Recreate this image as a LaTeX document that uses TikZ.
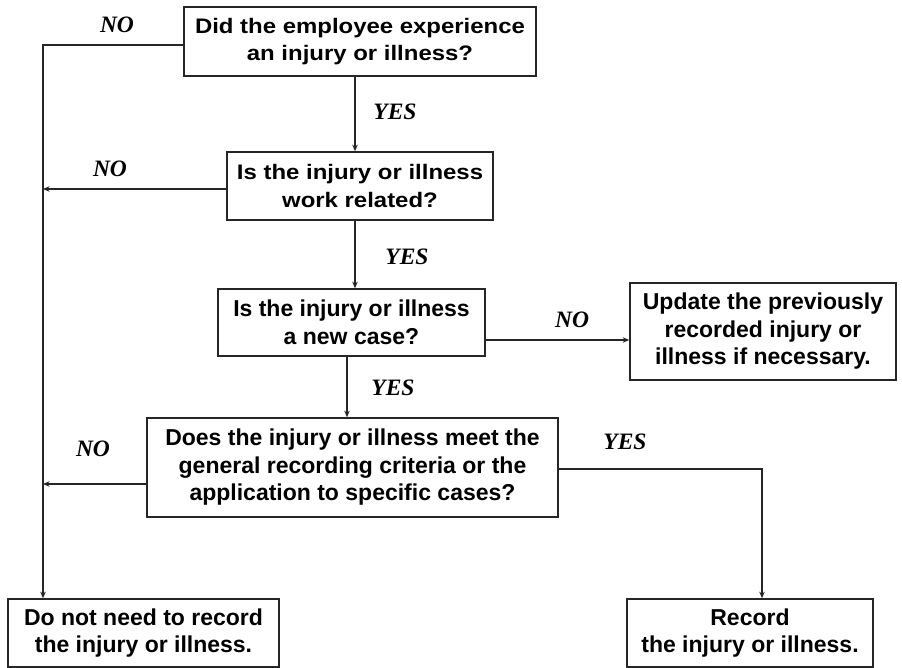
\documentclass[tikz,border=0pt]{standalone}
\usepackage{fontspec}
\setmainfont{Liberation Sans}
\newfontfamily\boxfont{Liberation Sans}[FakeStretch=1.14]
\newfontfamily\boxfontn{Liberation Sans}
\newfontfamily\lblfont{Liberation Serif}
\usetikzlibrary{arrows.meta}
\begin{document}
\begin{tikzpicture}[x=1pt,y=-1pt,
  box/.style={draw=black!85, line width=1.6pt, inner sep=0pt, align=center,
    font=\boxfont\bfseries\fontsize{21}{27.5}\selectfont},
  boxn/.style={box, font=\boxfontn\bfseries\fontsize{23}{27.5}\selectfont},
  lbl/.style={font=\lblfont\bfseries\itshape\fontsize{23.5}{26}\selectfont, inner sep=0pt},
  conn/.style={draw=black!85, line width=1.4pt},
  arr/.style={conn, -{Stealth[length=6.5pt,width=5.5pt]}}]
\useasboundingbox (0,0) rectangle (902,668);
% boxes
\node[box, minimum width=352pt, minimum height=69pt] (q1) at (360,41.5)
  {Did the employee experience\\an injury or illness?};
\node[box, minimum width=266pt, minimum height=68pt] (q2) at (360,186)
  {Is the injury or illness\\work related?};
\node[boxn, minimum width=267pt, minimum height=67pt] (q3) at (351.5,322.5)
  {Is the injury or illness\\a new case?};
\node[boxn, minimum width=266pt, minimum height=97pt] (upd) at (763,331.5)
  {Update the previously\\recorded injury or\\illness if necessary.};
\node[boxn, minimum width=411pt, minimum height=99pt] (q4) at (352.5,467.5)
  {Does the injury or illness meet the\\general recording criteria or the\\application to specific cases?};
\node[boxn, minimum width=271pt, minimum height=68pt] (nr) at (143.5,633)
  {Do not need to record\\the injury or illness.};
\node[boxn, minimum width=246pt, minimum height=68pt] (rec) at (750,633)
  {Record\\the injury or illness.};
% coordinates
\coordinate (c1) at (43,45);
\coordinate (c2) at (43,189);
\coordinate (c4) at (43,484);
\coordinate (c5) at (762,469);
% connectors
\draw[arr] (q1.west |- c1) -- (c1) -- (c1 |- nr.north);
\draw[arr] (q1.south -| 355,0) -- (q2.north -| 355,0);
\draw[arr] (q2.west |- c2) -- (c2);
\draw[arr] (q2.south -| 355,0) -- (q3.north -| 355,0);
\draw[arr] (q3.east |- 0,340) -- (upd.west |- 0,340);
\draw[arr] (q3.south -| 347,0) -- (q4.north -| 347,0);
\draw[arr] (q4.west |- c4) -- (c4);
\draw[arr] (q4.east |- c5) -- (c5) -- (c5 |- rec.north);
% labels
\node[lbl] (n1) at (117,25) {NO};
\node[lbl] (y1) at (395,112) {YES};
\node[lbl] (n2) at (110,169) {NO};
\node[lbl] (y2) at (407,257) {YES};
\node[lbl] (n3) at (572,320) {NO};
\node[lbl] (y3) at (393,388) {YES};
\node[lbl] (n4) at (93,449) {NO};
\node[lbl] (y4) at (625,442) {YES};
\end{tikzpicture}
\end{document}
